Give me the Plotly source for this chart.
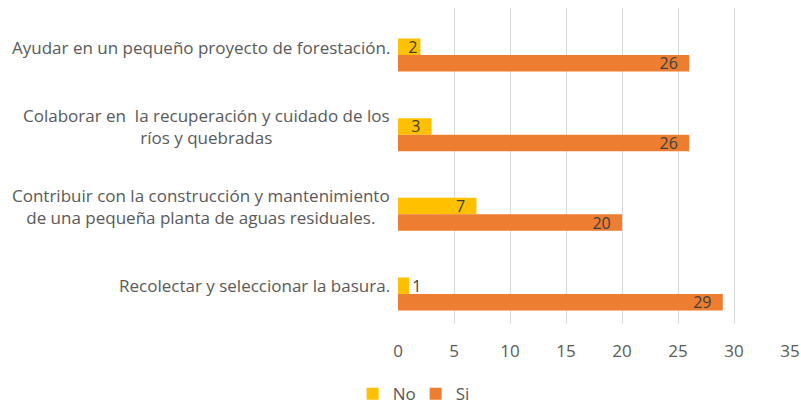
import plotly.graph_objects as go

categories = [
    "Ayudar en un pequeño proyecto de forestación.",
    "Colaborar en  la recuperación y cuidado de los<br>ríos y quebradas",
    "Contribuir con la construcción y mantenimiento<br>de una pequeña planta de aguas residuales.",
    "Recolectar y seleccionar la basura.",
]
no_values = [2, 3, 7, 1]
si_values = [26, 26, 20, 29]
x_ticks = [0, 5, 10, 15, 20, 25, 30, 35]

FONT = "Open Sans"
PAD = "\u00a0\u00a0"
idx = list(range(len(categories)))

def label(v):
    return str(v) + (PAD if v >= 3 else "")

fig = go.Figure()
fig.add_trace(go.Bar(
    y=idx, x=no_values, name="No", orientation="h",
    marker=dict(color="#FFC000", line=dict(width=0)),
    text=[label(v) for v in no_values],
    textposition=["inside" if v > 1 else "outside" for v in no_values],
    insidetextanchor="end", constraintext="none", cliponaxis=False, textangle=0,
    textfont=dict(family=FONT, size=16, color="#404040"),
))
fig.add_trace(go.Bar(
    y=idx, x=si_values, name="Si", orientation="h",
    marker=dict(color="#ED7D31", line=dict(width=0)),
    text=[label(v) for v in si_values], textposition="inside",
    insidetextanchor="end", constraintext="none", textangle=0,
    textfont=dict(family=FONT, size=16, color="#404040"),
))

for i, c in enumerate(categories):
    fig.add_annotation(
        x=0, xref="paper", y=i, yref="y", text=c, showarrow=False,
        xanchor="right", yanchor="middle", align="center", xshift=-6, yshift=8,
        font=dict(family=FONT, size=17, color="#595959"),
    )

fig.update_layout(
    width=801, height=404,
    margin=dict(l=398, r=11, t=8, b=80, autoexpand=False),
    paper_bgcolor="white", plot_bgcolor="white",
    barmode="group", bargap=0.586, bargroupgap=0,
    font=dict(family=FONT, size=16, color="#595959"),
    showlegend=True,
    legend=dict(orientation="h", xref="paper", yref="paper",
                x=0.045, y=-0.222, xanchor="center", yanchor="middle",
                font=dict(family=FONT, size=17, color="#595959"),
                itemwidth=30, entrywidth=18, entrywidthmode="pixels",
                traceorder="normal"),
    xaxis=dict(range=[0, 35], tickvals=x_ticks, showgrid=True,
               gridcolor="#D9D9D9", gridwidth=1, zeroline=False,
               showline=False, ticks="", ticklabelstandoff=15, automargin=False,
               ticklabeloverflow="allow",
               tickfont=dict(family=FONT, size=17, color="#595959")),
    yaxis=dict(range=[3.377, -0.59], showticklabels=False, showgrid=False,
               zeroline=False, showline=False, tickvals=idx, automargin=False),
)

fig.write_html(
    "out.html",
    config={"displayModeBar": False},
    post_script="document.body.style.margin='0';document.body.style.overflow='hidden';",
)
